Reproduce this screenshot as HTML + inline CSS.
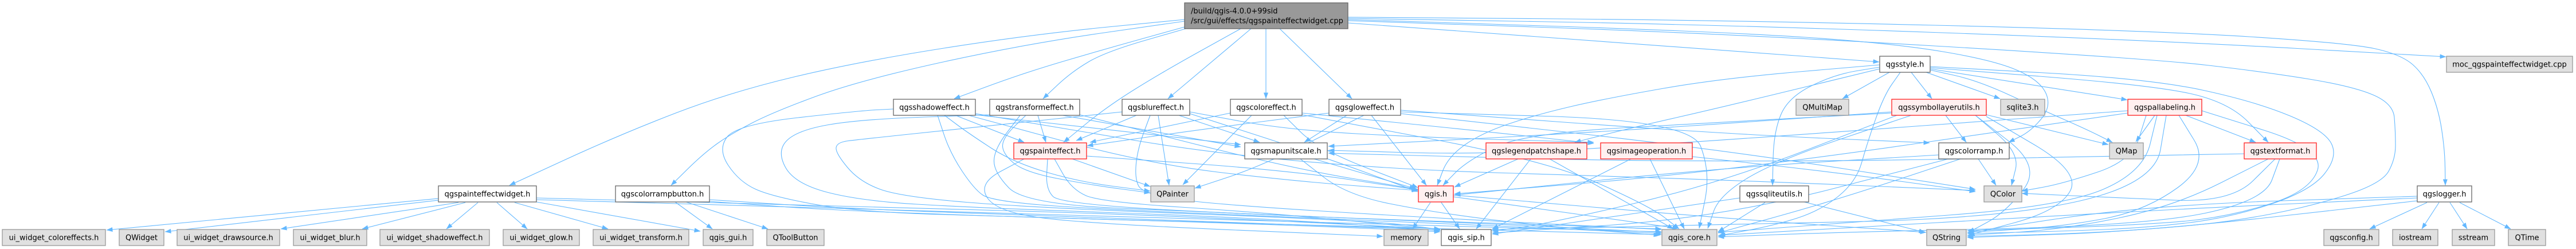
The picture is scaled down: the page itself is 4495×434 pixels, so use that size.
<!DOCTYPE html>
<html><head><meta charset="utf-8">
<style>
html,body{margin:0;padding:0;background:#fff;}
svg{display:block;}
.e{fill:none;stroke:#63b8ff;stroke-width:1.1;stroke-linejoin:round;}
text{font-family:"DejaVu Sans","Liberation Sans",sans-serif;font-size:13px;fill:#000;}
.w{fill:#fff;stroke:#666;stroke-width:1.3;}
.g{fill:#e0e0e0;stroke:#999;stroke-width:1.3;}
.r{fill:#fff0f0;stroke:#ff2020;stroke-width:1.3;}
.root{fill:#999;stroke:#666;stroke-width:1.3;}
</style></head>
<body>
<svg id="s" width="4495" height="434" viewBox="0 0 4495 434" xmlns="http://www.w3.org/2000/svg">
<defs>
<marker id="a" markerWidth="11" markerHeight="8" refX="10.5" refY="4" orient="auto" markerUnits="userSpaceOnUse"><path d="M0,0 L11,4 L0,8 z" fill="#63b8ff"/></marker>
</defs>
<g id="edges">
<polyline class="e" marker-end="url(#a)" points="765,346 186,401"/>
<polyline class="e" marker-end="url(#a)" points="765,349 288,404"/>
<polyline class="e" marker-end="url(#a)" points="800,353 490,399"/>
<polyline class="e" marker-end="url(#a)" points="812,353 632,399"/>
<polyline class="e" marker-end="url(#a)" points="834,353 779,399"/>
<polyline class="e" marker-end="url(#a)" points="867,353 920,399"/>
<polyline class="e" marker-end="url(#a)" points="898,353 1061,399"/>
<polyline class="e" marker-end="url(#a)" points="936,352 1222,403"/>
<polyline class="e" marker-end="url(#a)" points="936,345 1500,360 2000,374 2513,399"/>
<polyline class="e" marker-end="url(#a)" points="936,348 1500,364 2300,388 2899,404"/>
<polyline class="e" marker-end="url(#a)" points="1178,352 1243,399"/>
<polyline class="e" marker-end="url(#a)" points="1197,352 1340,399"/>
<polyline class="e" marker-end="url(#a)" points="1238,348 1500,365 2000,382 2513,401"/>
<polyline class="e" marker-end="url(#a)" points="1238,351 1500,370 2300,393 2899,409"/>
<polyline class="e" marker-end="url(#a)" points="2067,34 1800,60 1500,107 1276,160 1085,233 889,323"/>
<polyline class="e" marker-end="url(#a)" points="2067,37 1787,77 1500,140 1350,195 1276,233 1228,267 1171,323"/>
<polyline class="e" marker-end="url(#a)" points="2067,47 1930,85 1787,127 1665,172"/>
<polyline class="e" marker-end="url(#a)" points="2069,50 1930,90 1870,125 1820,172"/>
<polyline class="e" marker-end="url(#a)" points="2165,50 2026,127 1930,187 1856,248"/>
<polyline class="e" marker-end="url(#a)" points="2183,50 2038,172"/>
<polyline class="e" marker-end="url(#a)" points="2209,50 2209,172"/>
<polyline class="e" marker-end="url(#a)" points="2233,50 2359,172"/>
<polyline class="e" marker-end="url(#a)" points="2352,40 3000,87 3279,108"/>
<polyline class="e" marker-end="url(#a)" points="2352,30 3000,35 3750,53 4100,75 4190,95 4230,130 4255,190 4266,260 4267,323"/>
<polyline class="e" marker-end="url(#a)" points="2352,32 3000,43 3750,70 4268,99"/>
<polyline class="e" marker-end="url(#a)" points="2352,34 3000,55 3300,75 3480,105 3560,140 3580,185 3545,228 3505,248"/>
<polyline class="e" marker-end="url(#a)" points="2352,36 3000,58 3750,102 3950,125 4104,150 4176,180 4180,230 4180,277 4156,320 4032,360 3889,387 3745,400 3600,408 3433,412"/>
<polyline class="e" marker-end="url(#a)" points="3297,126 3215,172"/>
<polyline class="e" marker-end="url(#a)" points="3335,126 3371,172"/>
<polyline class="e" marker-end="url(#a)" points="3361,126 3490,172"/>
<polyline class="e" marker-end="url(#a)" points="3368,120 3712,174"/>
<polyline class="e" marker-end="url(#a)" points="3368,122 3450,140 3560,190 3640,225 3686,248"/>
<polyline class="e" marker-end="url(#a)" points="3280,117 3200,130 3120,170 3095,230 3093,323"/>
<polyline class="e" marker-end="url(#a)" points="3316,126 3287,167 3258,250 3239,317 3177,367 3096,393 2998,411"/>
<polyline class="e" marker-end="url(#a)" points="3280,113 3000,137 2800,172 2680,200 2585,232 2527,273 2508,323"/>
<polyline class="e" marker-end="url(#a)" points="3280,120 3000,188 2850,222 2748,248"/>
<polyline class="e" marker-end="url(#a)" points="3368,116 3750,137 3936,177 4056,227 4080,273 4032,333 3889,380 3745,397 3600,403 3433,407"/>
<polyline class="e" marker-end="url(#a)" points="3368,118 3750,148 3888,177 3958,248"/>
<polyline class="e" marker-end="url(#a)" points="1667,201 1787,248"/>
<polyline class="e" marker-end="url(#a)" points="1648,201 1691,233 1768,283 1883,317 2007,333"/>
<polyline class="e" marker-end="url(#a)" points="1701,200 2165,252"/>
<polyline class="e" marker-end="url(#a)" points="1690,201 2000,285 2250,315 2474,332"/>
<polyline class="e" marker-end="url(#a)" points="1636,201 1658,267 1700,330 1730,350 1900,364 2400,384 2899,407"/>
<polyline class="e" marker-end="url(#a)" points="1559,190 1500,193 1286,217 1252,260 1290,317 1348,343 1500,370 1800,378 2300,394 2513,404"/>
<polyline class="e" marker-end="url(#a)" points="1702,198 2250,290 3000,313 3447,332"/>
<polyline class="e" marker-end="url(#a)" points="1811,201 1825,248"/>
<polyline class="e" marker-end="url(#a)" points="1790,201 1750,240 1749,267 1787,300 1907,323 2007,336"/>
<polyline class="e" marker-end="url(#a)" points="1854,201 2165,256"/>
<polyline class="e" marker-end="url(#a)" points="1727,200 1500,208 1391,227 1355,263 1386,320 1500,350 1700,362 2200,380 2513,402"/>
<polyline class="e" marker-end="url(#a)" points="1780,201 1735,260 1734,300 1787,355 2100,370 2600,390 2899,405"/>
<polyline class="e" marker-end="url(#a)" points="1884,200 2250,293 2474,330"/>
<polyline class="e" marker-end="url(#a)" points="1983,201 1878,245"/>
<polyline class="e" marker-end="url(#a)" points="2021,201 2040,323"/>
<polyline class="e" marker-end="url(#a)" points="2057,201 2198,248"/>
<polyline class="e" marker-end="url(#a)" points="2007,201 1985,260 1980,310 1993,337 2100,355 2500,380 2899,400"/>
<polyline class="e" marker-end="url(#a)" points="2076,195 2250,227 2500,240 2781,248"/>
<polyline class="e" marker-end="url(#a)" points="1958,195 1700,222 1500,243 1460,248 1458,267 1500,317 1572,343 1800,362 2400,385 2513,400"/>
<polyline class="e" marker-end="url(#a)" points="2076,198 2300,270 2474,334"/>
<polyline class="e" marker-end="url(#a)" points="2147,197 1902,248"/>
<polyline class="e" marker-end="url(#a)" points="2184,201 2064,322"/>
<polyline class="e" marker-end="url(#a)" points="2272,197 2600,230 2781,250"/>
<polyline class="e" marker-end="url(#a)" points="2272,200 2700,280 2880,360 2930,399"/>
<polyline class="e" marker-end="url(#a)" points="2240,201 2300,260 2474,327"/>
<polyline class="e" marker-end="url(#a)" points="2350,201 2276,248"/>
<polyline class="e" marker-end="url(#a)" points="2393,201 2489,323"/>
<polyline class="e" marker-end="url(#a)" points="2319,197 2100,225 1897,254"/>
<polyline class="e" marker-end="url(#a)" points="2380,201 2200,290 2085,328"/>
<polyline class="e" marker-end="url(#a)" points="2444,192 3000,233 3367,249"/>
<polyline class="e" marker-end="url(#a)" points="2444,195 2950,210 2985,300 2965,398"/>
<polyline class="e" marker-end="url(#a)" points="2444,198 3000,260 3447,330"/>
<polyline class="e" marker-end="url(#a)" points="1871,277 2007,325"/>
<polyline class="e" marker-end="url(#a)" points="1896,272 2250,297 2474,331"/>
<polyline class="e" marker-end="url(#a)" points="1828,277 1825,330 1850,355 2200,375 2899,399"/>
<polyline class="e" marker-end="url(#a)" points="1840,277 1870,330 1920,352 2200,370 2513,400"/>
<polyline class="e" marker-end="url(#a)" points="1787,277 1706,320 1740,370 1900,390 2413,412"/>
<polyline class="e" marker-end="url(#a)" points="2293,277 2470,329"/>
<polyline class="e" marker-end="url(#a)" points="2269,277 2350,340 2500,370 2700,395 2896,410"/>
<polyline class="e" marker-end="url(#a)" points="2496,353 2465,399"/>
<polyline class="e" marker-end="url(#a)" points="2515,353 2547,399"/>
<polyline class="e" marker-end="url(#a)" points="2536,343 2929,398"/>
<polyline class="e" marker-end="url(#a)" points="2536,340 3000,380 3361,405"/>
<polyline class="e" marker-end="url(#a)" points="2649,277 2538,326"/>
<polyline class="e" marker-end="url(#a)" points="2671,277 2576,399"/>
<polyline class="e" marker-end="url(#a)" points="2704,277 2920,399"/>
<polyline class="e" marker-end="url(#a)" points="2846,277 2604,399"/>
<polyline class="e" marker-end="url(#a)" points="2879,277 2939,399"/>
<polyline class="e" marker-end="url(#a)" points="2953,273 3200,300 3447,334"/>
<polyline class="e" marker-end="url(#a)" points="3395,201 3431,248"/>
<polyline class="e" marker-end="url(#a)" points="3447,201 3524,267 3510,323"/>
<polyline class="e" marker-end="url(#a)" points="3466,200 3679,252"/>
<polyline class="e" marker-end="url(#a)" points="3447,201 3562,290 3500,370 3435,405"/>
<polyline class="e" marker-end="url(#a)" points="3466,203 3631,300 3593,367 3435,410"/>
<polyline class="e" marker-end="url(#a)" points="3301,197 3000,213 2657,233 2560,280 2518,323"/>
<polyline class="e" marker-end="url(#a)" points="3301,195 2800,230 2318,255"/>
<polyline class="e" marker-end="url(#a)" points="3335,201 3100,280 3000,340 2980,398"/>
<polyline class="e" marker-end="url(#a)" points="3310,201 3000,320 2700,390 2604,403"/>
<polyline class="e" marker-end="url(#a)" points="3452,277 3483,323"/>
<polyline class="e" marker-end="url(#a)" points="3383,270 3000,293 2538,340"/>
<polyline class="e" marker-end="url(#a)" points="3421,277 3200,350 2998,406"/>
<polyline class="e" marker-end="url(#a)" points="3400,277 3000,380 2604,406"/>
<polyline class="e" marker-end="url(#a)" points="3148,352 3359,405"/>
<polyline class="e" marker-end="url(#a)" points="3080,353 2998,404"/>
<polyline class="e" marker-end="url(#a)" points="3036,345 2800,380 2604,408"/>
<polyline class="e" marker-end="url(#a)" points="3814,201 3936,248"/>
<polyline class="e" marker-end="url(#a)" points="3760,201 3727,247"/>
<polyline class="e" marker-end="url(#a)" points="3745,201 3720,280 3600,320 3528,333"/>
<polyline class="e" marker-end="url(#a)" points="3802,201 3855,287 3745,367 3600,395 3433,405"/>
<polyline class="e" marker-end="url(#a)" points="3764,201 3740,300 3600,360 3200,390 2998,405"/>
<polyline class="e" marker-end="url(#a)" points="3780,201 3760,320 3500,380 3000,392 2604,400"/>
<polyline class="e" marker-end="url(#a)" points="3713,193 3000,245 2600,270 2318,262"/>
<polyline class="e" marker-end="url(#a)" points="3713,197 3000,300 2538,338"/>
<polyline class="e" marker-end="url(#a)" points="3842,193 4056,260 4032,333 3889,378 3745,392 3433,402"/>
<polyline class="e" marker-end="url(#a)" points="3916,268 3000,285 2318,267"/>
<polyline class="e" marker-end="url(#a)" points="3958,277 3793,360 3600,400 3433,410"/>
<polyline class="e" marker-end="url(#a)" points="3970,277 3893,353 3700,345 3528,337"/>
<polyline class="e" marker-end="url(#a)" points="3978,277 3951,350 3745,393 3200,405 2998,413"/>
<polyline class="e" marker-end="url(#a)" points="4235,353 4135,399"/>
<polyline class="e" marker-end="url(#a)" points="4256,353 4226,399"/>
<polyline class="e" marker-end="url(#a)" points="4275,353 4305,399"/>
<polyline class="e" marker-end="url(#a)" points="4292,353 4381,399"/>
<polyline class="e" marker-end="url(#a)" points="4218,342 3745,358 3433,405"/>
<polyline class="e" marker-end="url(#a)" points="4218,345 3745,367 3000,410"/>
<polyline class="e" marker-end="url(#a)" points="4218,350 3745,403 3433,414"/>
</g>
<g id="nodes">
<rect class="root" x="2067" y="5" width="285" height="45"/>
<text x="2078" y="23.5">/build/qgis-4.0.0+99sid</text>
<text x="2078" y="40.5">/src/gui/effects/qgspainteffectwidget.cpp</text>

<rect class="w" x="3280" y="98" width="88" height="28"/><text x="3324" y="116.5" text-anchor="middle">qgsstyle.h</text>
<rect class="g" x="4269" y="98" width="220" height="28"/><text x="4379" y="116.5" text-anchor="middle">moc_qgspainteffectwidget.cpp</text>

<rect class="w" x="1559" y="173" width="143" height="28"/><text x="1630.5" y="191.5" text-anchor="middle">qgsshadoweffect.h</text>
<rect class="w" x="1727" y="173" width="157" height="28"/><text x="1805.5" y="191.5" text-anchor="middle">qgstransformeffect.h</text>
<rect class="w" x="1958" y="173" width="118" height="28"/><text x="2017" y="191.5" text-anchor="middle">qgsblureffect.h</text>
<rect class="w" x="2147" y="173" width="125" height="28"/><text x="2209.5" y="191.5" text-anchor="middle">qgscoloreffect.h</text>
<rect class="w" x="2319" y="173" width="125" height="28"/><text x="2381.5" y="191.5" text-anchor="middle">qgsgloweffect.h</text>
<rect class="g" x="3134" y="173" width="92" height="28"/><text x="3180" y="191.5" text-anchor="middle">QMultiMap</text>
<rect class="r" x="3301" y="173" width="165" height="28"/><text x="3383.5" y="191.5" text-anchor="middle">qgssymbollayerutils.h</text>
<rect class="g" x="3491" y="173" width="77" height="28"/><text x="3529.5" y="191.5" text-anchor="middle">sqlite3.h</text>
<rect class="r" x="3713" y="173" width="129" height="28"/><text x="3777.5" y="191.5" text-anchor="middle">qgspallabeling.h</text>

<rect class="r" x="1769" y="249" width="127" height="28"/><text x="1832.5" y="267.5" text-anchor="middle">qgspainteffect.h</text>
<rect class="w" x="2172" y="249" width="144" height="28"/><text x="2244" y="267.5" text-anchor="middle">qgsmapunitscale.h</text>
<rect class="r" x="2593" y="249" width="176" height="28"/><text x="2681" y="267.5" text-anchor="middle">qgslegendpatchshape.h</text>
<rect class="r" x="2793" y="249" width="160" height="28"/><text x="2873" y="267.5" text-anchor="middle">qgsimageoperation.h</text>
<rect class="w" x="3383" y="249" width="123" height="28"/><text x="3444.5" y="267.5" text-anchor="middle">qgscolorramp.h</text>
<rect class="g" x="3681" y="249" width="59" height="28"/><text x="3710.5" y="267.5" text-anchor="middle">QMap</text>
<rect class="r" x="3916" y="249" width="126" height="28"/><text x="3979" y="267.5" text-anchor="middle">qgstextformat.h</text>

<rect class="w" x="765" y="324" width="171" height="28"/><text x="850.5" y="342.5" text-anchor="middle">qgspainteffectwidget.h</text>
<rect class="w" x="1074" y="324" width="164" height="28"/><text x="1156" y="342.5" text-anchor="middle">qgscolorrampbutton.h</text>
<rect class="g" x="2008" y="324" width="76" height="28"/><text x="2046" y="342.5" text-anchor="middle">QPainter</text>
<rect class="r" x="2475" y="324" width="61" height="28"/><text x="2505.5" y="342.5" text-anchor="middle">qgis.h</text>
<rect class="w" x="3036" y="324" width="120" height="28"/><text x="3096" y="342.5" text-anchor="middle">qgssqliteutils.h</text>
<rect class="g" x="3462" y="324" width="66" height="28"/><text x="3495" y="342.5" text-anchor="middle">QColor</text>
<rect class="w" x="4218" y="324" width="95" height="28"/><text x="4265.5" y="342.5" text-anchor="middle">qgslogger.h</text>

<rect class="g" x="4" y="400" width="180" height="28"/><text x="94" y="418.5" text-anchor="middle">ui_widget_coloreffects.h</text>
<rect class="g" x="208" y="400" width="78" height="28"/><text x="247" y="418.5" text-anchor="middle">QWidget</text>
<rect class="g" x="309" y="400" width="179" height="28"/><text x="398.5" y="418.5" text-anchor="middle">ui_widget_drawsource.h</text>
<rect class="g" x="512" y="400" width="128" height="28"/><text x="576" y="418.5" text-anchor="middle">ui_widget_blur.h</text>
<rect class="g" x="663" y="400" width="191" height="28"/><text x="758.5" y="418.5" text-anchor="middle">ui_widget_shadoweffect.h</text>
<rect class="g" x="878" y="400" width="133" height="28"/><text x="944.5" y="418.5" text-anchor="middle">ui_widget_glow.h</text>
<rect class="g" x="1035" y="400" width="167" height="28"/><text x="1118.5" y="418.5" text-anchor="middle">ui_widget_transform.h</text>
<rect class="g" x="1227" y="400" width="87" height="28"/><text x="1270.5" y="418.5" text-anchor="middle">qgis_gui.h</text>
<rect class="g" x="1338" y="400" width="100" height="28"/><text x="1388" y="418.5" text-anchor="middle">QToolButton</text>
<rect class="g" x="2415" y="400" width="77" height="28"/><text x="2453.5" y="418.5" text-anchor="middle">memory</text>
<rect class="w" x="2515" y="400" width="87" height="28"/><text x="2558.5" y="418.5" text-anchor="middle">qgis_sip.h</text>
<rect class="g" x="2900" y="400" width="96" height="28"/><text x="2948" y="418.5" text-anchor="middle">qgis_core.h</text>
<rect class="g" x="3362" y="400" width="69" height="28"/><text x="3396.5" y="418.5" text-anchor="middle">QString</text>
<rect class="g" x="4055" y="400" width="96" height="28"/><text x="4103" y="418.5" text-anchor="middle">qgsconfig.h</text>
<rect class="g" x="4175" y="400" width="79" height="28"/><text x="4214.5" y="418.5" text-anchor="middle">iostream</text>
<rect class="g" x="4279" y="400" width="74" height="28"/><text x="4316" y="418.5" text-anchor="middle">sstream</text>
<rect class="g" x="4377" y="400" width="65" height="28"/><text x="4409.5" y="418.5" text-anchor="middle">QTime</text>
</g>
</svg>
<script>
(function(){
  var ns="http://www.w3.org/2000/svg";
  var pls=document.querySelectorAll("polyline.e");
  for(var i=0;i<pls.length;i++){
    var pl=pls[i];
    var pts=pl.getAttribute("points").trim().split(/\s+/).map(function(s){var a=s.split(",");return [parseFloat(a[0]),parseFloat(a[1])];});
    if(pts.length<3) continue;
    var d="M"+pts[0][0]+","+pts[0][1];
    for(var k=1;k<pts.length-1;k++){
      var mx=(pts[k][0]+pts[k+1][0])/2, my=(pts[k][1]+pts[k+1][1])/2;
      if(k==1){ var m0x=(pts[0][0]+pts[1][0])/2, m0y=(pts[0][1]+pts[1][1])/2; d+=" L"+m0x+","+m0y; }
      d+=" Q"+pts[k][0]+","+pts[k][1]+" "+mx+","+my;
    }
    var n=pts.length-1;
    d+=" L"+pts[n][0]+","+pts[n][1];
    var p=document.createElementNS(ns,"path");
    p.setAttribute("d",d);
    p.setAttribute("class","e");
    p.setAttribute("marker-end","url(#a)");
    pl.parentNode.replaceChild(p,pl);
  }
})();
</script>
</body></html>
